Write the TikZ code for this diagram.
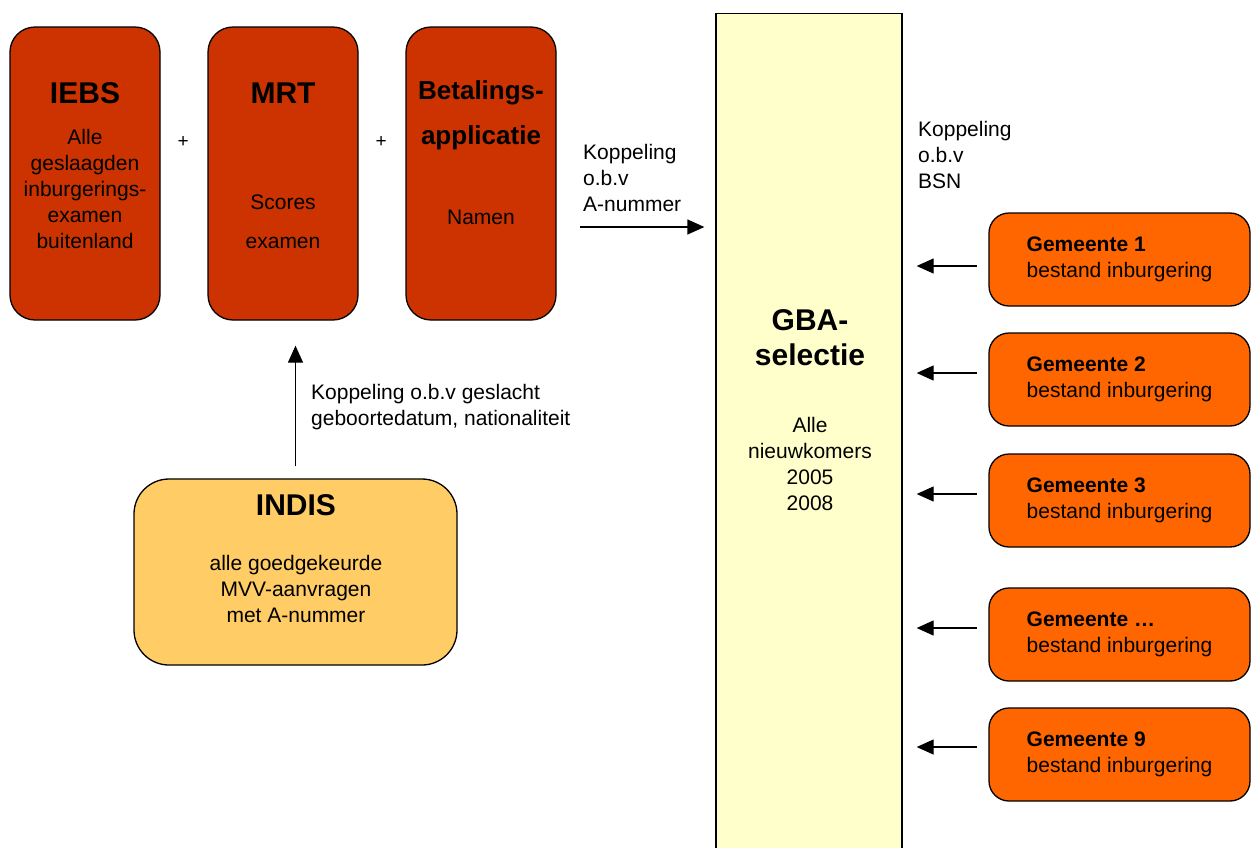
\documentclass[tikz,border=0pt]{standalone}
\usepackage{fontspec}
\setmainfont{Liberation Sans}
\usepackage{xcolor}
\usepackage{tikz}
\usetikzlibrary{shapes, arrows, arrows.meta, positioning, calc}
\definecolor{bronrood}{HTML}{CC3300}
\definecolor{gemoranje}{HTML}{FF6600}
\definecolor{indisgeel}{HTML}{FFCC66}
\definecolor{gbageel}{HTML}{FFFFCC}
\tikzstyle{line} = [draw, line width=1.3pt, -{Triangle[length=17pt, width=15pt]}]
\tikzstyle{block} = [draw, rectangle, rounded corners=25pt, line width=1.3pt, fill=bronrood, minimum width=150pt, minimum height=293pt]
\tikzstyle{gemblock} = [draw, rectangle, rounded corners=20pt, line width=1.3pt, fill=gemoranje, minimum width=261pt, minimum height=93pt, align=left, font=\fontsize{21}{26}\selectfont]
\tikzstyle{indisblock} = [draw, rectangle, rounded corners=35pt, line width=1.3pt, fill=indisgeel, minimum width=323pt, minimum height=186pt]
\tikzstyle{gbablock} = [draw, rectangle, line width=1.3pt, fill=gbageel, minimum width=186pt, minimum height=880pt]
\tikzstyle{kop} = [inner sep=0pt, align=center, font=\bfseries\fontsize{30}{35}\selectfont]
\tikzstyle{tekst} = [inner sep=0pt, align=center, font=\fontsize{21}{26}\selectfont]
\tikzstyle{plus} = [inner sep=0pt, font=\itshape\fontsize{19}{19}\selectfont]
\def\obv{o.b.v}

\begin{document}
\begin{tikzpicture}[x=1pt, y=-1pt, node distance=120pt]
		\useasboundingbox (0,0) rectangle (1257,847);
		\node[block] (iebs) at (85,173.5) {};
		\node[block, right of=iebs, node distance=198pt] (mrt) {};
		\node[block, right of=mrt, node distance=198pt] (bet) {};
		\node[kop] (iebs-kop) at (85,93) {IEBS};
		\node[tekst] (iebs-txt) at (85,189) {Alle\\geslaagden\\inburgerings-\\examen\\buitenland};
		\node[kop] (mrt-kop) at (283,93) {MRT};
		\node[tekst] (mrt-txt) at (283,221.5) {Scores\\[13pt]examen};
		\node[kop, font=\bfseries\fontsize{26}{45}\selectfont] (bet-kop) at (481,115) {Betalings-\\applicatie};
		\node[tekst] (bet-txt) at (481,217) {Namen};
		\node[plus] (plus1) at (183,142) {+};
		\node[plus] (plus2) at (381,142) {+};
		% GBA
		\node[gbablock, anchor=north] (gba) at (809,13) {};
		\node[kop] (gba-kop) at (810,337.5) {GBA-\\selectie};
		\node[tekst] (gba-txt) at (810,463.5) {Alle\\nieuwkomers\\2005\\2008};
		\node[tekst, align=left, anchor=west] (anr) at (583,178) {Koppeling\\\obv\\A-nummer};
		\node[tekst, align=left, anchor=west] (bsn) at (918,155) {Koppeling\\\obv\\BSN};
		\coordinate (anr-start) at (580,227);
		\draw[line] (anr-start) -- ($(anr-start -| gba.west)+(-11pt,0)$);
		% gemeenten
		\node[gemblock] (g1) at (1119.5,259.5) {\textbf{Gemeente 1}\\bestand inburgering};
		\node[gemblock, below of=g1] (g2) {\textbf{Gemeente 2}\\bestand inburgering};
		\node[gemblock, below of=g2, yshift=-1pt] (g3) {\textbf{Gemeente 3}\\bestand inburgering};
		\node[gemblock, below of=g3, yshift=-14pt] (g4) {\textbf{Gemeente …}\\bestand inburgering};
		\node[gemblock, below of=g4] (g5) {\textbf{Gemeente 9}\\bestand inburgering};
		\foreach \g/\dy in {g1/-6.5, g2/6.5, g3/6.5, g4/6.5, g5/7.5}
			\draw[line] ($(\g.west)+(-11pt,\dy pt)$) -- ($(\g.west -| gba.east)+(14pt,\dy pt)$);
		% INDIS
		\node[indisblock] (indis) at (295.5,572) {};
		\node[kop] (indis-kop) at (296,505) {INDIS};
		\node[tekst] (indis-txt) at (296,589) {alle goedgekeurde\\MVV-aanvragen\\met A-nummer};
		\draw[line] ($(indis.north)+(0,12pt)$) -- ($(indis.north |- mrt.south)+(0,-25pt)$);
		\node[tekst, align=left, anchor=west] (geslacht) at (311,407.5) {Koppeling \obv\ geslacht\\geboortedatum, nationaliteit};
	\end{tikzpicture}
\end{document}
